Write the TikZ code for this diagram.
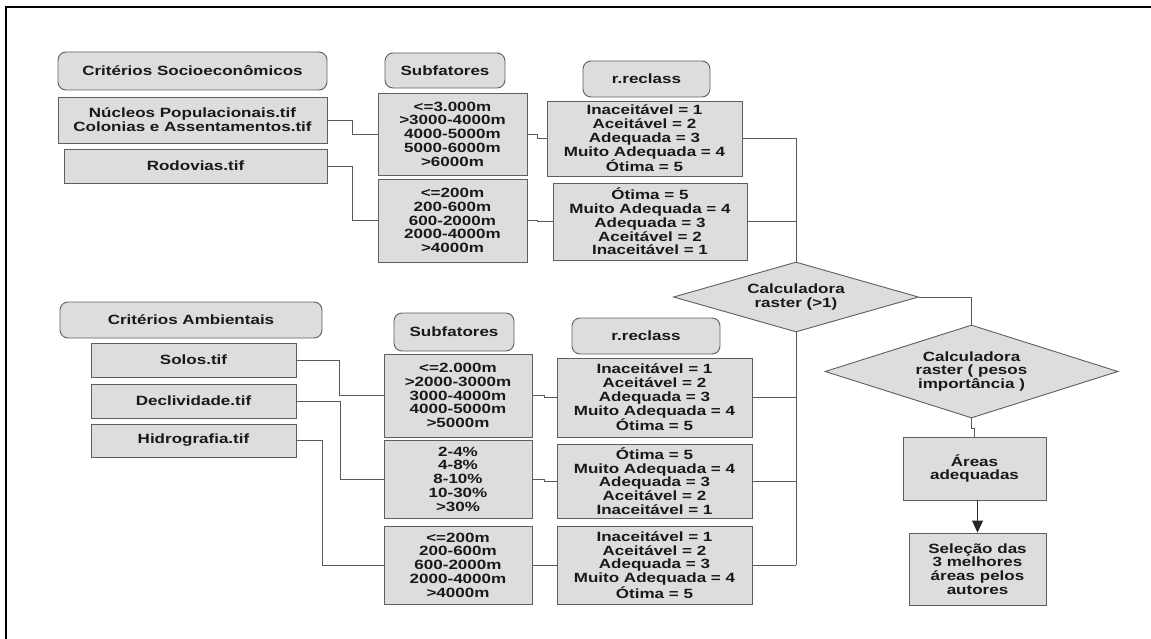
\documentclass[tikz,border=0pt]{standalone}
\usepackage{fontspec}
\setmainfont{Liberation Sans}[FakeStretch=1.27]
\usetikzlibrary{shapes.geometric,arrows.meta}
\definecolor{boxfill}{HTML}{DDDDDD}
\definecolor{boxline}{HTML}{5E5E5E}
\definecolor{connline}{HTML}{5A5A5A}
\tikzset{
  base/.style={fill=boxfill, draw=boxline, line width=0.9pt, inner sep=0pt, align=center,
    font=\fontsize{13.4}{13.8}\selectfont\bfseries, text=black!90},
  box/.style={base, rectangle},
  hdr/.style={base, rectangle, rounded corners=8pt},
  dia/.style={base, diamond, aspect=3},
  conn/.style={draw=connline, line width=0.9pt},
  arrowline/.style={draw=black!85, line width=1pt, -{Triangle[width=11pt,length=12pt]}},
  frame/.style={draw=black, line width=2pt}
}
\begin{document}
\begin{tikzpicture}[x=1pt,y=-1pt]
\useasboundingbox (0,0) rectangle (1151,639);
\draw[frame] (6,639) -- (6,7) -- (1151,7);

% upper group
\node[hdr, minimum width=269, minimum height=38] (hdrSE) at (192.5,71) {Critérios Socioeconômicos};
\node[box, minimum width=269, minimum height=46] (nuc) at (192.5,120) {Núcleos Populacionais.tif\\Colonias e Assentamentos.tif};
\node[box, minimum width=263, minimum height=34] (rod) at (195.5,166) {Rodovias.tif};
\node[hdr, minimum width=120, minimum height=35] (subA) at (445,70.5) {Subfatores};
\node[box, minimum width=149, minimum height=82] (s1) at (452.5,134) {<=3.000m\\>3000-4000m\\4000-5000m\\5000-6000m\\>6000m};
\node[box, minimum width=149, minimum height=83] (s2) at (452.5,220.5) {<=200m\\200-600m\\600-2000m\\2000-4000m\\>4000m};
\node[hdr, minimum width=127, minimum height=36] (rcA) at (646.5,79) {r.reclass};
\node[box, minimum width=195, minimum height=75] (r1) at (644.5,138.5) {Inaceitável = 1\\Aceitável = 2\\Adequada = 3\\Muito Adequada = 4\\Ótima = 5};
\node[box, minimum width=194, minimum height=77] (r2) at (650,221.5) {Ótima = 5\\Muito Adequada = 4\\Adequada = 3\\Aceitável = 2\\Inaceitável = 1};

% diamonds
\node[dia, minimum width=245, minimum height=70] (d1) at (796,297) {Calculadora\\raster (>1)};
\node[dia, minimum width=293, minimum height=93] (d2) at (971.5,371.5) {Calculadora\\raster ( pesos\\importância )};

% lower group
\node[hdr, minimum width=262, minimum height=36] (hdrA) at (191,320) {Critérios Ambientais};
\node[box, minimum width=205, minimum height=34] (solos) at (193.5,360) {Solos.tif};
\node[box, minimum width=205, minimum height=34] (decl) at (193.5,401) {Declividade.tif};
\node[box, minimum width=205, minimum height=33] (hidro) at (193.5,440.5) {Hidrografia.tif};
\node[hdr, minimum width=120, minimum height=38] (subB) at (454,332) {Subfatores};
\node[box, minimum width=148, minimum height=83] (t1) at (458,395.5) {<=2.000m\\>2000-3000m\\3000-4000m\\4000-5000m\\>5000m};
\node[box, minimum width=148, minimum height=78] (t2) at (458,479) {2-4\%\\4-8\%\\8-10\%\\10-30\%\\>30\%};
\node[box, minimum width=148, minimum height=78] (t3) at (458,565) {<=200m\\200-600m\\600-2000m\\2000-4000m\\>4000m};
\node[hdr, minimum width=148, minimum height=36] (rcB) at (646,336) {r.reclass};
\node[box, minimum width=195, minimum height=79] (q1) at (654.5,397.5) {Inaceitável = 1\\Aceitável = 2\\Adequada = 3\\Muito Adequada = 4\\Ótima = 5};
\node[box, minimum width=195, minimum height=74] (q2) at (654.5,481) {Ótima = 5\\Muito Adequada = 4\\Adequada = 3\\Aceitável = 2\\Inaceitável = 1};
\node[box, minimum width=195, minimum height=78] (q3) at (654.5,565) {Inaceitável = 1\\Aceitável = 2\\Adequada = 3\\Muito Adequada = 4\\Ótima = 5};

% right column
\node[box, minimum width=143, minimum height=63] (areas) at (974.5,468.5) {Áreas\\adequadas};
\node[box, minimum width=137, minimum height=72] (sel) at (977.5,569) {Seleção das\\3 melhores\\áreas pelos\\autores};

% connectors upper
\draw[conn] (nuc.east) -- ++(25,0) |- (s1.west);
\draw[conn] (rod.east) -- ++(25,0) |- (s2.west);
\draw[conn] (s1.east) -- ++(10,0) |- (r1.west);
\draw[conn] (s2.east) -- ++(10,0) |- (r2.west);
\draw[conn] (r1.east) -| (d1.north);
\draw[conn] (r2.east) -- (r2.east -| d1.north);

% connectors lower
\draw[conn] (solos.east) -- ++(43,0) |- (t1.west);
\draw[conn] (decl.east) -- ++(44,0) |- (t2.west);
\draw[conn] (hidro.east) -- ++(26,0) |- (t3.west);
\draw[conn] (t1.east) -- ++(12,0) |- (q1.west);
\draw[conn] (t2.east) -- ++(12,0) |- (q2.west);
\draw[conn] (t3.east) -- (q3.west);
\draw[conn] (d1.south) -- (d1.south |- q3.east);
\draw[conn] (q1.east) -- (q1.east -| d1.south);
\draw[conn] (q2.east) -- (q2.east -| d1.south);
\draw[conn] (q3.east) -- (q3.east -| d1.south);

% right side connectors
\draw[conn] (d1.east) -| (d2.north);
\draw[conn] (d2.south) -- ++(0,10) -| (areas.north);
\draw[arrowline] (areas.south -| sel.north) -- (sel.north);
\end{tikzpicture}
\end{document}
